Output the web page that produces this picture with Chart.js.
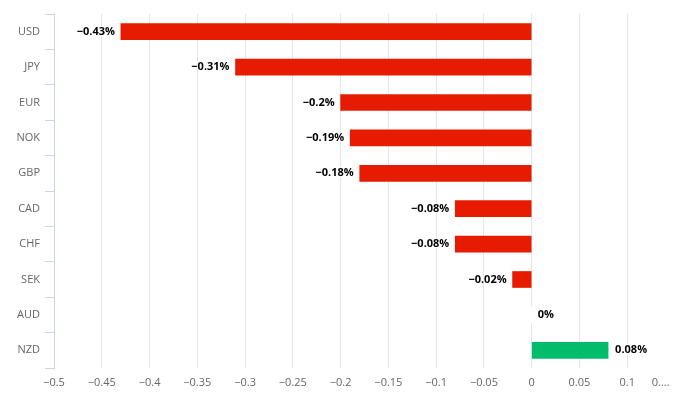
<!DOCTYPE html>
<html lang="en">
<head>
<meta charset="utf-8">
<script src="https://cdn.jsdelivr.net/npm/chart.js@4.4.1/dist/chart.umd.min.js"></script>
<title>Currency change</title>
<style>
    body { margin: 0; background: #ffffff; }
    #wrap { position: relative; width: 675px; height: 394px; }
</style>
</head>
<body>
<div id="wrap"><canvas id="fx_chart"></canvas></div>
<script>
// currencies and daily change in percent
const currencies = ['USD', 'JPY', 'EUR', 'NOK', 'GBP', 'CAD', 'CHF', 'SEK', 'AUD', 'NZD'];
const changes = [-0.43, -0.31, -0.2, -0.19, -0.18, -0.08, -0.08, -0.02, 0, 0.08];
const axisMin = -0.5, axisMax = 0.15, axisStep = 0.05;

const RED = '#e61b00', GREEN = '#00bc6b';
const FONT = '"Open Sans", "DejaVu Sans", sans-serif';

function fmt(v) {
    var s = String(Math.abs(v));
    return (v < 0 ? '\u2212' : '') + s;
}

// value labels next to each bar, black with white outline
const valueLabels = {
    id: 'valueLabels',
    afterDatasetsDraw(chart) {
        const ctx = chart.ctx;
        const meta = chart.getDatasetMeta(0);
        ctx.save();
        ctx.font = 'bold 11px ' + FONT;
        ctx.textBaseline = 'middle';
        ctx.lineJoin = 'round';
        meta.data.forEach(function (bar, i) {
            const v = changes[i];
            const txt = fmt(v) + '%';
            let x;
            if (v < 0) { ctx.textAlign = 'right'; x = bar.x - 6; }
            else { ctx.textAlign = 'left'; x = bar.x + 7; }
            ctx.lineWidth = 2;
            ctx.strokeStyle = '#ffffff';
            ctx.strokeText(txt, x, bar.y);
            ctx.fillStyle = '#000000';
            ctx.fillText(txt, x, bar.y);
        });
        ctx.restore();
    }
};

new Chart('fx_chart', {
    type: 'bar',
    data: {
        labels: currencies,
        datasets: [{
            data: changes,
            // zero value gets a white sliver like the original's bar border
            backgroundColor: changes.map(v => v < 0 ? RED : (v > 0 ? GREEN : '#ffffff')),
            barThickness: 16,
            minBarLength: 2,
            borderWidth: 0
        }]
    },
    options: {
        indexAxis: 'y',
        responsive: true,
        maintainAspectRatio: false,
        animation: false,
        layout: { padding: { top: 14, left: 0, right: -2, bottom: 0 } },
        plugins: {
            legend: { display: false },
            tooltip: { enabled: false }
        },
        scales: {
            x: {
                type: 'linear',
                min: axisMin,
                max: axisMax,
                afterBuildTicks: s => {
                    s.ticks = [];
                    for (let k = 0; k <= Math.round((axisMax - axisMin) / axisStep); k++) {
                        s.ticks.push({ value: +(axisMin + k * axisStep).toFixed(2) });
                    }
                },
                afterFit: s => { s.height = 26; s.paddingRight = -2; s.paddingLeft = 0; },
                grid: { color: '#e6e6e6', lineWidth: 1, drawTicks: false },
                border: { display: false },
                ticks: {
                    autoSkip: false,
                    maxRotation: 0,
                    padding: 8,
                    color: '#666666',
                    font: { family: FONT, size: 11 },
                    callback: v => v === axisMax ? '0....          ' : fmt(v)
                }
            },
            y: {
                afterFit: s => { s.width = 54; },
                grid: {
                    offset: true,
                    drawOnChartArea: false,
                    drawTicks: true,
                    tickLength: 9,
                    tickColor: '#ccd6eb',
                    color: '#ccd6eb'
                },
                border: { display: true, color: '#ccd6eb', width: 1 },
                ticks: {
                    padding: 5,
                    color: '#666666',
                    font: { family: FONT, size: 11 }
                }
            }
        }
    },
    plugins: [valueLabels]
});
</script>
</body>
</html>
